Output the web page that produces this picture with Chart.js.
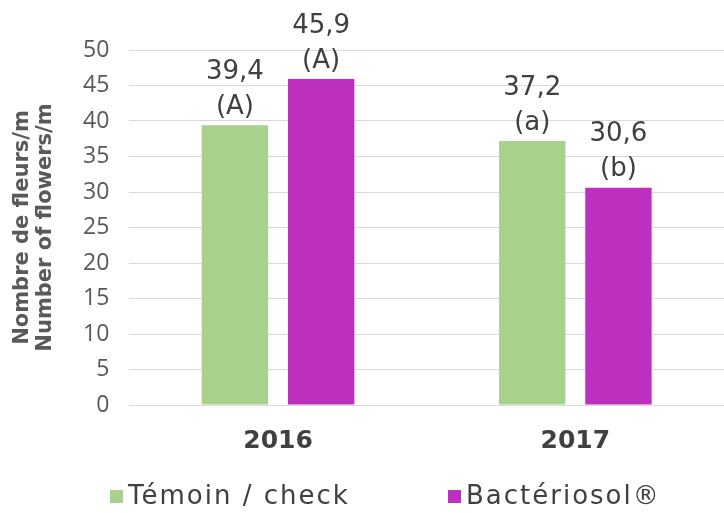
<!DOCTYPE html>
<html>
<head>
<meta charset="utf-8">
<script src="https://cdn.jsdelivr.net/npm/chart.js@4.4.1/dist/chart.umd.min.js"></script>
<style>
  html, body { margin: 0; padding: 0; background: #fff; }
  #wrap { width: 724px; height: 513px; }
</style>
</head>
<body>
<div id="wrap"><canvas id="flowerChart"></canvas></div>
<script>
// ==================== DONNÉES ====================
const years = ['2016', '2017'];
const checkValues = [39.4, 37.2];
const bacteriosolValues = [45.9, 30.6];
const checkLetters = ['(A)', '(a)'];
const bacteriosolLetters = ['(A)', '(b)'];
const yTicks = [0, 5, 10, 15, 20, 25, 30, 35, 40, 45, 50];

const GREEN = '#a9d18e';
const MAGENTA = '#bd30bd';
const TEXT = '#404040';

// étiquettes de valeur + lettres au-dessus des barres
const valueLabels = {
    id: 'valueLabels',
    afterDatasetsDraw(chart) {
        const ctx = chart.ctx;
        ctx.save();
        ctx.font = '26px "DejaVu Sans"';
        ctx.fillStyle = TEXT;
        ctx.textAlign = 'center';
        ctx.textBaseline = 'middle';
        chart.data.datasets.forEach((ds, i) => {
            chart.getDatasetMeta(i).data.forEach((bar, j) => {
                const txt = String(ds.data[j]).replace('.', ',');
                ctx.fillText(txt, bar.x, bar.y - 53);
                ctx.fillText(ds.letters[j], bar.x, bar.y - 18);
            });
        });
        ctx.restore();
    }
};

// légende en bas, deux entrées espacées comme l'original
const bottomLegend = {
    id: 'bottomLegend',
    afterDraw(chart) {
        const ctx = chart.ctx;
        const starts = [110, 448];
        ctx.save();
        ctx.font = '26px "DejaVu Sans"';
        if ('letterSpacing' in ctx) ctx.letterSpacing = '2px';
        ctx.textBaseline = 'middle';
        ctx.textAlign = 'left';
        chart.data.datasets.forEach((ds, i) => {
            ctx.fillStyle = ds.backgroundColor;
            ctx.fillRect(starts[i], 490, 13, 13);
            ctx.fillStyle = TEXT;
            ctx.fillText(ds.label, starts[i] + 18, 497);
        });
        ctx.restore();
    }
};

new Chart(document.getElementById('flowerChart'), {
    type: 'bar',
    data: {
        labels: years,
        datasets: [
            { label: 'Témoin / check', data: checkValues, letters: checkLetters, backgroundColor: GREEN,
              categoryPercentage: 0.58, barPercentage: 0.77 },
            { label: 'Bactériosol®', data: bacteriosolValues, letters: bacteriosolLetters, backgroundColor: MAGENTA,
              categoryPercentage: 0.58, barPercentage: 0.77 }
        ]
    },
    options: {
        responsive: true,
        maintainAspectRatio: false,
        animation: false,
        layout: { padding: { left: 8, right: 0, top: 50, bottom: 36 } },
        plugins: {
            legend: { display: false },
            tooltip: { enabled: false }
        },
        scales: {
            x: {
                grid: { display: false, drawTicks: false },
                border: { display: false },
                ticks: { color: TEXT, padding: 21, font: { family: 'DejaVu Sans', size: 25, weight: 'bold' } }
            },
            y: {
                min: 0,
                max: 50,
                afterBuildTicks: axis => { axis.ticks = yTicks.map(v => ({ value: v })); },
                grid: { color: '#d9d9d9', lineWidth: 1, drawTicks: false },
                border: { display: false },
                ticks: { color: '#595959', padding: 20, font: { family: 'Open Sans', size: 23 } },
                title: {
                    display: true,
                    text: ['Nombre de fleurs/m', 'Number of flowers/m'],
                    color: '#595959',
                    padding: { top: 4, bottom: 7 },
                    font: { family: 'DejaVu Sans', size: 21, weight: 'bold', lineHeight: 1.05 }
                }
            }
        }
    },
    plugins: [valueLabels, bottomLegend]
});
</script>
</body>
</html>
